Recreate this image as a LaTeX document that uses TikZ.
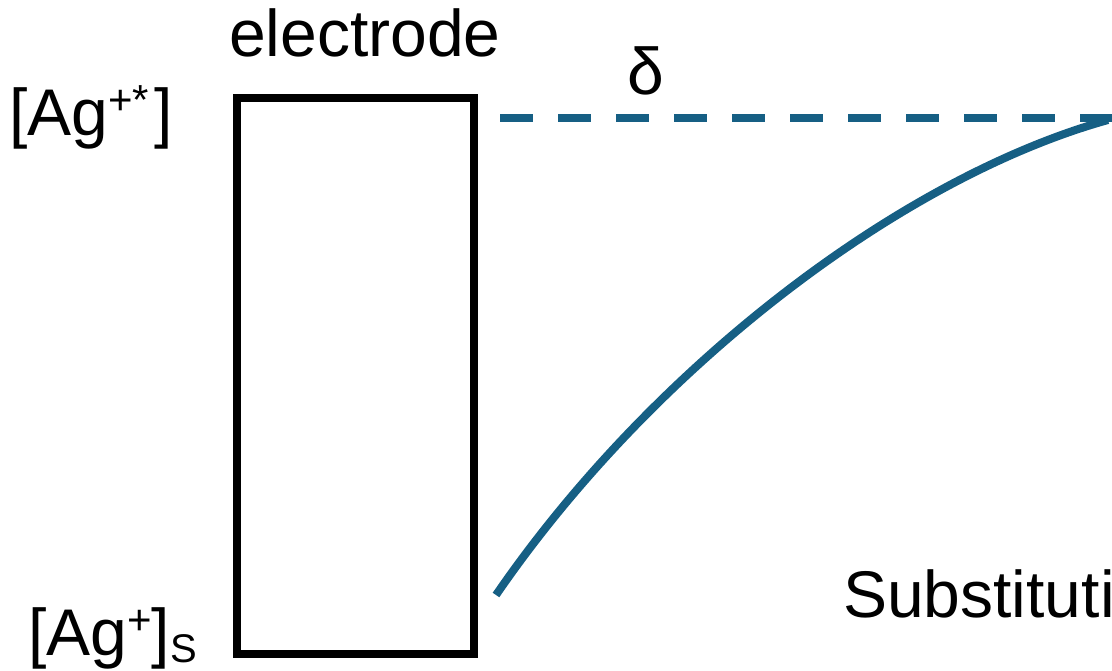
\documentclass[tikz,border=0pt]{standalone}
\usepackage{fontspec}
\setmainfont{Liberation Sans}
\usepackage{xcolor}
\usetikzlibrary{math}
\definecolor{curveblue}{HTML}{165F84}

\newcommand{\upidx}[1]{\raisebox{21pt}{\fontsize{42}{42}\selectfont #1}}
\newcommand{\lowidx}[1]{\raisebox{-7pt}{\fontsize{40}{40}\selectfont #1}}

\tikzset{
  lbl/.style={anchor=base west, inner sep=0pt, font=\fontsize{66}{70}\selectfont},
  conc/.style={line width=8pt, color=curveblue},
}

\begin{document}
\begin{tikzpicture}[x=1pt, y=-1pt]
\tikzmath{
\xl=236.5; \xr=474;
\yt=98.5; \yb=653.5;
\ylim=118;
}
\useasboundingbox (0,0) rectangle (1112,671);
\clip (0,0) rectangle (1112,671);

% electrode
\draw[line width=8pt] (\xl,\yt) rectangle (\xr,\yb);
\node[lbl] (el) at (229,57) {electrode};

% concentrations
\node[lbl] (top) at (9,136) {[Ag\upidx{+*}\kern5pt]};
\node[lbl] (bot) at (28,655) {[Ag\upidx{+}]\lowidx{S}};

% limit line
\coordinate (L1) at (500,\ylim);
\coordinate (L2) at (1112,\ylim);
\draw[conc, dash pattern=on 33pt off 25pt] (L1) -- (L2);
\node[lbl] (d) at (627,95) {δ};

% profile
\coordinate (C0) at (496,595);
\coordinate (C3) at (1108,120);
\draw[conc] (C0) .. controls (652,368) and (900,178) .. (C3);

\node[lbl] (sub) at (843,617) {Substituti};

\end{tikzpicture}
\end{document}
